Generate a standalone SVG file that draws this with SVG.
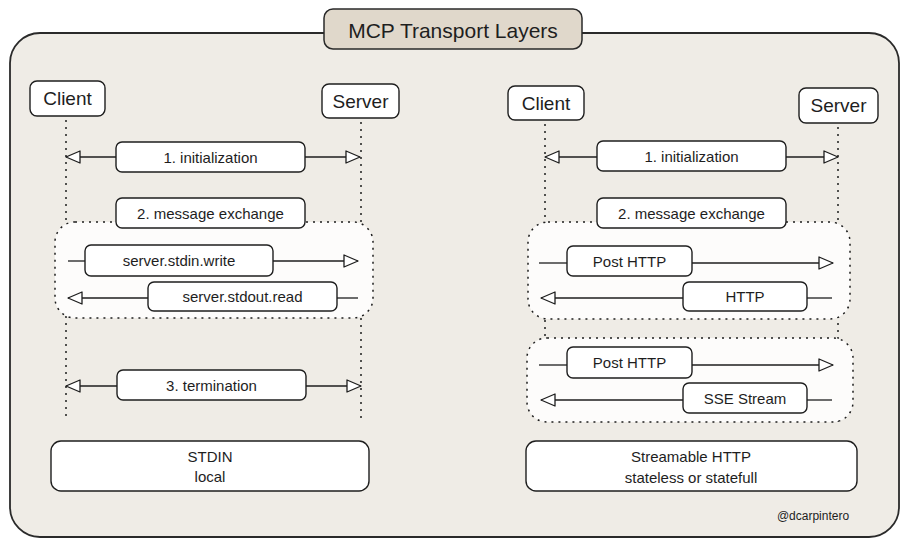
<svg xmlns="http://www.w3.org/2000/svg" width="909" height="547" viewBox="0 0 909 547">
<defs>
<style>
text{font-family:"Liberation Sans","Noto Sans",sans-serif;fill:#1e1e1e;text-anchor:middle;dominant-baseline:central}
.box{fill:#ffffff;stroke:#1e1e1e;stroke-width:1.4}
.life{stroke:#1e1e1e;stroke-width:1.5;stroke-dasharray:2 5;fill:none}
.region{fill:#fdfcfb;stroke:#1e1e1e;stroke-width:1.5;stroke-dasharray:2 5}
.arr{stroke:#1e1e1e;stroke-width:1.3;fill:none}
.lbl{font-size:15px}
.actor{font-size:19px}
</style>
<marker id="ah" viewBox="0 0 16 14" refX="15" refY="7" markerWidth="16" markerHeight="14" markerUnits="userSpaceOnUse" orient="auto-start-reverse">
<path d="M1,1 L15,7 L1,13 Z" fill="#ffffff" stroke="#1e1e1e" stroke-width="1.3" stroke-linejoin="round"/>
</marker>
</defs>
<rect width="909" height="547" fill="#ffffff"/>
<g id="container">
<rect x="10" y="33" width="889" height="504" rx="30" fill="#efece6" stroke="#2a2a2a" stroke-width="1.8"/>
</g>
<g id="title">
<rect x="324" y="9" width="258" height="40" rx="9" fill="#e0d8cb" stroke="#2a2a2a" stroke-width="1.5"/>
<text x="453" y="30" font-size="21">MCP Transport Layers</text>
</g>

<g id="lifelines">
<line class="life" x1="66" y1="120" x2="66" y2="420"/>
<line class="life" x1="361" y1="122" x2="361" y2="420"/>
<line class="life" x1="545" y1="124" x2="545" y2="422"/>
<line class="life" x1="838" y1="127" x2="838" y2="422"/>
</g>

<g id="region-left">
<rect class="region" x="55" y="222" width="318" height="96" rx="20"/>
</g>
<g id="region-right-1">
<rect class="region" x="528" y="222" width="322" height="97" rx="20"/>
</g>
<g id="region-right-2">
<rect class="region" x="527" y="338" width="326" height="84" rx="20"/>
</g>

<g id="connectors">
<line class="arr" x1="116" y1="157" x2="66" y2="157" marker-end="url(#ah)"/>
<line class="arr" x1="305" y1="157" x2="360" y2="157" marker-end="url(#ah)"/>
<line class="arr" x1="68" y1="261" x2="85" y2="261"/>
<line class="arr" x1="273" y1="261" x2="358" y2="261" marker-end="url(#ah)"/>
<line class="arr" x1="148" y1="298" x2="68" y2="298" marker-end="url(#ah)"/>
<line class="arr" x1="337" y1="298" x2="358" y2="298"/>
<line class="arr" x1="117" y1="386" x2="66" y2="386" marker-end="url(#ah)"/>
<line class="arr" x1="306" y1="386" x2="361" y2="386" marker-end="url(#ah)"/>

<line class="arr" x1="597" y1="157" x2="545" y2="157" marker-end="url(#ah)"/>
<line class="arr" x1="786" y1="157" x2="838" y2="157" marker-end="url(#ah)"/>
<line class="arr" x1="539" y1="263" x2="567" y2="263"/>
<line class="arr" x1="692" y1="263" x2="833" y2="263" marker-end="url(#ah)"/>
<line class="arr" x1="683" y1="298" x2="541" y2="298" marker-end="url(#ah)"/>
<line class="arr" x1="807" y1="298" x2="832" y2="298"/>
<line class="arr" x1="539" y1="365" x2="567" y2="365"/>
<line class="arr" x1="692" y1="365" x2="833" y2="365" marker-end="url(#ah)"/>
<line class="arr" x1="683" y1="400" x2="541" y2="400" marker-end="url(#ah)"/>
<line class="arr" x1="807" y1="400" x2="832" y2="400"/>
</g>

<g id="client-left">
<rect class="box" x="30" y="81" width="75" height="35" rx="7"/>
<text class="actor" x="67.5" y="98.5">Client</text>
</g>
<g id="server-left">
<rect class="box" x="322" y="84" width="77" height="34" rx="7"/>
<text class="actor" x="360.5" y="101">Server</text>
</g>
<g id="init-left">
<rect class="box" x="116" y="142" width="189" height="30" rx="6"/>
<text class="lbl" x="210.5" y="157">1. initialization</text>
</g>
<g id="msg-left">
<rect class="box" x="116" y="198" width="189" height="30" rx="6"/>
<text class="lbl" x="210.5" y="213">2. message exchange</text>
</g>
<g id="stdin-write">
<rect class="box" x="85" y="245" width="188" height="31" rx="6"/>
<text class="lbl" x="179" y="260.5">server.stdin.write</text>
</g>
<g id="stdout-read">
<rect class="box" x="148" y="282" width="189" height="29" rx="6"/>
<text class="lbl" x="242.5" y="296.5">server.stdout.read</text>
</g>
<g id="term-left">
<rect class="box" x="117" y="370" width="189" height="30" rx="6"/>
<text class="lbl" x="211.5" y="385">3. termination</text>
</g>
<g id="stdin-box">
<rect class="box" x="51" y="441" width="318" height="50" rx="10"/>
<text class="lbl" x="210" y="456">STDIN</text>
<text class="lbl" x="210" y="476">local</text>
</g>

<g id="client-right">
<rect class="box" x="508" y="86" width="76" height="34" rx="7"/>
<text class="actor" x="546" y="103">Client</text>
</g>
<g id="server-right">
<rect class="box" x="799" y="88" width="79" height="35" rx="7"/>
<text class="actor" x="838.5" y="105.5">Server</text>
</g>
<g id="init-right">
<rect class="box" x="597" y="141" width="189" height="30" rx="6"/>
<text class="lbl" x="691.5" y="156">1. initialization</text>
</g>
<g id="msg-right">
<rect class="box" x="597" y="198" width="189" height="30" rx="6"/>
<text class="lbl" x="691.5" y="213">2. message exchange</text>
</g>
<g id="post-1">
<rect class="box" x="567" y="246" width="125" height="30" rx="6"/>
<text class="lbl" x="629.5" y="261">Post HTTP</text>
</g>
<g id="http-resp">
<rect class="box" x="683" y="282" width="124" height="29" rx="6"/>
<text class="lbl" x="745" y="296.5">HTTP</text>
</g>
<g id="post-2">
<rect class="box" x="567" y="347" width="125" height="31" rx="6"/>
<text class="lbl" x="629.5" y="362.5">Post HTTP</text>
</g>
<g id="sse-stream">
<rect class="box" x="683" y="383" width="124" height="30" rx="6"/>
<text class="lbl" x="745" y="398">SSE Stream</text>
</g>
<g id="streamable-box">
<rect class="box" x="526" y="441" width="331" height="50" rx="10"/>
<text class="lbl" x="691" y="456">Streamable HTTP</text>
<text class="lbl" x="691" y="477">stateless or statefull</text>
</g>
<g id="credit">
<text x="813" y="516" font-size="12">@dcarpintero</text>
</g>
</svg>
